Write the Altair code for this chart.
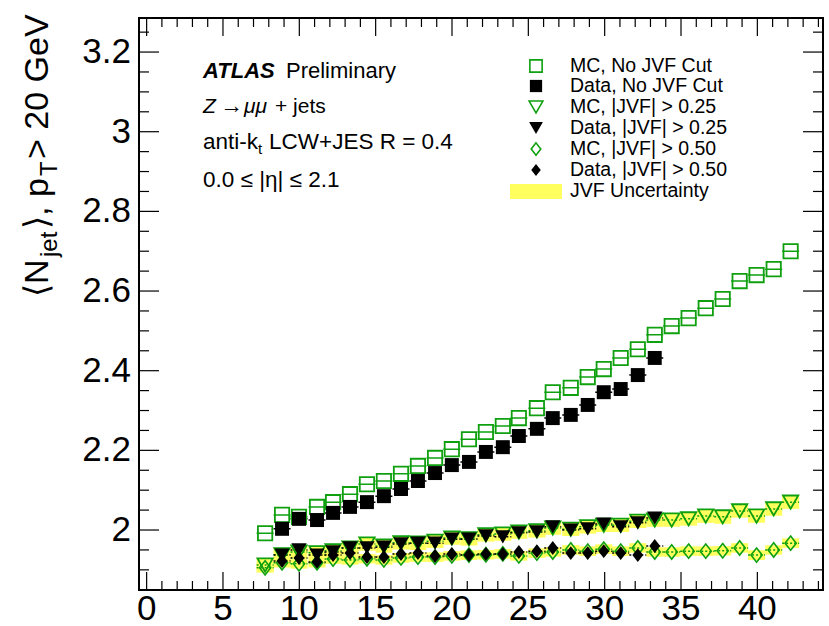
import altair as alt
import pandas as pd

# ---------------- data ----------------
x_mu = [7.76, 8.87, 9.98, 11.16, 12.21, 13.32, 14.43, 15.54, 16.66, 17.77,
        18.89, 19.99, 21.11, 22.22, 23.33, 24.38, 25.56, 26.60, 27.78, 28.89,
        29.94, 31.05, 32.17, 33.28, 34.39, 35.50, 36.62, 37.73, 38.84, 39.95,
        41.07, 42.18]

mc_nocut = [1.992, 2.038, 2.033, 2.058, 2.070, 2.090, 2.115, 2.123, 2.141, 2.161,
            2.181, 2.203, 2.228, 2.246, 2.261, 2.281, 2.306, 2.346, 2.357, 2.384,
            2.404, 2.432, 2.454, 2.490, 2.512, 2.532, 2.557, 2.580, 2.625, 2.640,
            2.655, 2.700]
data_nocut = [2.003, 2.028, 2.025, 2.043, 2.058, 2.070, 2.085, 2.103, 2.123, 2.143,
              2.163, 2.171, 2.196, 2.208, 2.236, 2.254, 2.281, 2.289, 2.314, 2.346,
              2.354, 2.389, 2.432]
mc_jvf025 = [1.912, 1.938, 1.945, 1.943, 1.948, 1.955, 1.965, 1.960, 1.968, 1.967,
             1.972, 1.980, 1.978, 1.988, 1.990, 1.995, 1.998, 2.005, 2.002, 2.008,
             2.012, 2.012, 2.022, 2.025, 2.025, 2.028, 2.035, 2.033, 2.048, 2.035,
             2.053, 2.070]
data_jvf025 = [1.937, 1.950, 1.937, 1.945, 1.955, 1.955, 1.957, 1.965, 1.967, 1.967,
               1.977, 1.977, 1.985, 1.983, 1.993, 1.995, 2.008, 2.000, 2.003, 2.015,
               2.008, 2.018, 2.030]
mc_jvf050 = [1.905, 1.918, 1.915, 1.918, 1.927, 1.925, 1.928, 1.925, 1.930, 1.932,
             1.932, 1.935, 1.937, 1.938, 1.940, 1.935, 1.942, 1.945, 1.950, 1.947,
             1.952, 1.947, 1.955, 1.945, 1.945, 1.947, 1.947, 1.948, 1.955, 1.937,
             1.950, 1.967]
data_jvf050 = [1.922, 1.930, 1.920, 1.937, 1.942, 1.932, 1.932, 1.940, 1.942, 1.935,
               1.940, 1.937, 1.940, 1.940, 1.945, 1.947, 1.955, 1.942, 1.942, 1.947,
               1.942, 1.937, 1.960]
data_x = x_mu[1:24]

half_bin = 0.557
unc_025 = 0.017
unc_050 = 0.012

x_major = [0, 5, 10, 15, 20, 25, 30, 35, 40]
x_labels = ["0", "5", "10", "15", "20", "25", "30", "35", "40"]
x_minor = [v for v in range(0, 45) if v % 5 != 0]
y_major = [2.0, 2.2, 2.4, 2.6, 2.8, 3.0, 3.2]
y_labels = ["2", "2.2", "2.4", "2.6", "2.8", "3", "3.2"]
y_minor = [1.85, 1.9, 1.95, 2.05, 2.1, 2.15, 2.25, 2.3, 2.35, 2.45, 2.5, 2.55,
           2.65, 2.7, 2.75, 2.85, 2.9, 2.95, 3.05, 3.1, 3.15, 3.25]

legend_labels = ["MC, No JVF Cut", "Data, No JVF Cut", "MC, |JVF| > 0.25",
                 "Data, |JVF| > 0.25", "MC, |JVF| > 0.50", "Data, |JVF| > 0.50",
                 "JVF Uncertainty"]

# ---------------- layout ----------------
W, H = 684, 572
PAD_L, PAD_T = 139, 18
GREEN = "#0ea00e"
YELLOW = "#ffff5e"
FONT = "Liberation Sans"

xs = alt.Scale(domain=[-0.5, 44.3], nice=False, zero=False)
ys = alt.Scale(domain=[1.8494, 3.2855], nice=False, zero=False)


def series(xv, yv):
    d = pd.DataFrame({"x": xv, "y": yv})
    d["lo"] = d["x"] - half_bin
    d["hi"] = d["x"] + half_bin
    return d


X = alt.X("x:Q", scale=xs, axis=None)
Y = alt.Y("y:Q", scale=ys, axis=None)

layers = []

# yellow JVF uncertainty bands
for vals, u in [(mc_jvf025, unc_025), (mc_jvf050, unc_050)]:
    d = series(x_mu, vals)
    d["y1"] = d["y"] - u
    d["y2"] = d["y"] + u
    layers.append(alt.Chart(d).mark_rect(color=YELLOW, opacity=1).encode(
        x=alt.X("lo:Q", scale=xs, axis=None), x2="hi:Q",
        y=alt.Y("y1:Q", scale=ys, axis=None), y2="y2:Q"))

# horizontal error bars
for xv, yv, col, dash in [(x_mu, mc_nocut, GREEN, [1, 0]), (x_mu, mc_jvf025, GREEN, [2, 2]),
                          (x_mu, mc_jvf050, GREEN, [2, 2]), (data_x, data_nocut, "black", [1, 0]),
                          (data_x, data_jvf025, "black", [2, 2]), (data_x, data_jvf050, "black", [2, 2])]:
    d = series(xv, yv)
    layers.append(alt.Chart(d).mark_rule(color=col, strokeWidth=1.5, strokeDash=dash).encode(
        x=alt.X("lo:Q", scale=xs, axis=None), x2="hi:Q", y=Y))

DIAMOND = "M0,-1L0.78,0L0,1L-0.78,0Z"

# MC markers (open)
layers.append(alt.Chart(series(x_mu, mc_nocut)).mark_point(
    shape="square", size=205, filled=False, color=GREEN, strokeWidth=1.8, opacity=1).encode(x=X, y=Y))
layers.append(alt.Chart(series(x_mu, mc_jvf025)).mark_point(
    shape="triangle-down", size=235, filled=False, color=GREEN, strokeWidth=1.8, opacity=1).encode(x=X, y=Y))
layers.append(alt.Chart(series(x_mu, mc_jvf050)).mark_point(
    shape=DIAMOND, size=205, filled=False, color=GREEN, strokeWidth=1.6, opacity=1).encode(x=X, y=Y))

# Data markers (filled)
layers.append(alt.Chart(series(data_x, data_nocut)).mark_point(
    shape="square", size=195, filled=True, color="black", opacity=1).encode(x=X, y=Y))
layers.append(alt.Chart(series(data_x, data_jvf025)).mark_point(
    shape="triangle-down", size=235, filled=True, color="black", opacity=1).encode(x=X, y=Y))
layers.append(alt.Chart(series(data_x, data_jvf050)).mark_point(
    shape=DIAMOND, size=195, filled=True, color="black", opacity=1).encode(x=X, y=Y))

# inward ticks on all four sides
for vals, ln in [(x_major, 18), (x_minor, 9)]:
    d = pd.DataFrame({"x": vals})
    layers.append(alt.Chart(d).mark_rule(color="black", strokeWidth=1.2).encode(
        x=X, y=alt.value(H), y2=alt.value(H - ln)))
    layers.append(alt.Chart(d).mark_rule(color="black", strokeWidth=1.2).encode(
        x=X, y=alt.value(0), y2=alt.value(ln)))
for vals, ln in [(y_major, 20), (y_minor, 10)]:
    d = pd.DataFrame({"y": vals})
    layers.append(alt.Chart(d).mark_rule(color="black", strokeWidth=1.2).encode(
        y=Y, x=alt.value(0), x2=alt.value(ln)))
    layers.append(alt.Chart(d).mark_rule(color="black", strokeWidth=1.2).encode(
        y=Y, x=alt.value(W), x2=alt.value(W - ln)))

# tick labels
layers.append(alt.Chart(pd.DataFrame({"x": x_major, "lab": x_labels})).mark_text(
    fontSize=35, font=FONT, align="center", baseline="top", color="black").encode(
    x=X, y=alt.value(H + 2), text="lab:N"))
layers.append(alt.Chart(pd.DataFrame({"y": y_major, "lab": y_labels})).mark_text(
    fontSize=35, font=FONT, align="right", baseline="middle", color="black").encode(
    y=Y, x=alt.value(-8), text="lab:N"))


def txt(s, x, y, size=20, style="normal", weight="normal", angle=0, align="left",
        baseline="alphabetic", font=FONT):
    kw = dict(text=s, fontSize=size, font=font, fontStyle=style, fontWeight=weight,
              align=align, baseline=baseline, color="black")
    if angle:
        kw["angle"] = angle
    return alt.Chart(pd.DataFrame({"t": [s]})).mark_text(**kw).encode(
        x=alt.value(x), y=alt.value(y))


# annotation block (page coords minus padding)
ax0 = 203 - PAD_L
layers.append(txt("ATLAS", ax0, 78 - PAD_T, size=22, style="italic", weight="bold"))
layers.append(txt("Preliminary", 286 - PAD_L, 78 - PAD_T, size=22))
layers.append(txt("Z", ax0, 113 - PAD_T, size=21, style="italic"))
layers.append(txt("\u2192", 220 - PAD_L, 113 - PAD_T, size=23))
layers.append(txt("\u03bc\u03bc", 244 - PAD_L, 113 - PAD_T, size=21, style="italic"))
layers.append(txt("+ jets", 275 - PAD_L, 113 - PAD_T, size=21))
layers.append(txt("anti-k", ax0, 149 - PAD_T, size=22.5))
layers.append(txt("t", 258 - PAD_L, 154 - PAD_T, size=15))
layers.append(txt("LCW+JES R = 0.4", 269 - PAD_L, 149 - PAD_T, size=22.5))
layers.append(txt("0.0 \u2264 |\u03b7| \u2264 2.1", ax0, 187 - PAD_T, size=22.5))

# legend
leg_mx = 536 - PAD_L
leg_tx = 570 - PAD_L
rows = [66, 86, 107, 128, 149, 170, 191]
leg_marks = [("square", False, GREEN, 150), ("square", True, "black", 150),
             ("triangle-down", False, GREEN, 190), ("triangle-down", True, "black", 190),
             (DIAMOND, False, GREEN, 150), (DIAMOND, True, "black", 150)]
for (shape, filled, col, sz), ry in zip(leg_marks, rows[:6]):
    layers.append(alt.Chart(pd.DataFrame({"a": [0]})).mark_point(
        shape=shape, filled=filled, color=col, size=sz, strokeWidth=1.6, opacity=1).encode(
        x=alt.value(leg_mx), y=alt.value(ry - PAD_T)))
layers.append(alt.Chart(pd.DataFrame({"a": [0]})).mark_rect(color=YELLOW).encode(
    x=alt.value(510 - PAD_L), x2=alt.value(562 - PAD_L),
    y=alt.value(184 - PAD_T), y2=alt.value(199 - PAD_T)))
for lab, ry in zip(legend_labels, rows):
    layers.append(txt(lab, leg_tx, ry - PAD_T, size=19.5, baseline="middle"))

# y-axis title, rotated, built from pieces
bx = 48 - PAD_L
layers.append(txt("\u27e8N", bx, 297 - PAD_T, size=34, angle=270))
layers.append(txt("jet", bx + 9, 257 - PAD_T, size=24, angle=270))
layers.append(txt("\u27e9, p", bx, 229 - PAD_T, size=34, angle=270))
layers.append(txt("T", bx + 9, 176 - PAD_T, size=24, angle=270))
layers.append(txt("> 20 GeV", bx, 159 - PAD_T, size=34, angle=270))

chart = alt.layer(*layers).properties(
    width=W, height=H,
    padding={"left": PAD_L, "top": PAD_T, "right": 829 - PAD_L - W, "bottom": 626 - PAD_T - H},
    autosize=alt.AutoSizeParams(type="none"),
    background="white",
).configure_view(stroke="black", strokeWidth=2).configure_axis(grid=False)

chart.save("out.html", embed_options={"renderer": "svg", "actions": False})
